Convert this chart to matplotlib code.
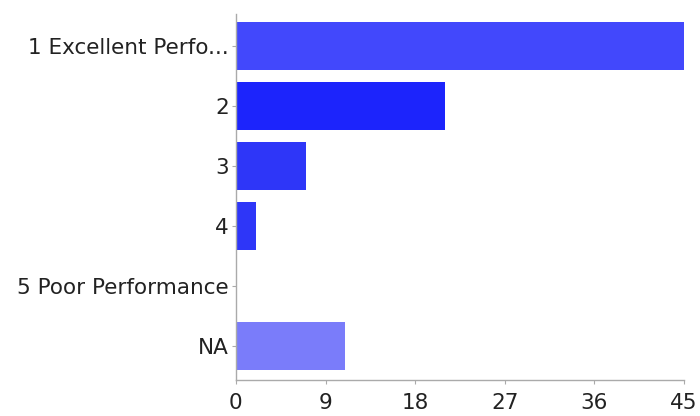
import matplotlib
matplotlib.use("Agg")
import matplotlib.pyplot as plt

plt.rcParams['font.family'] = ['DejaVu Sans']

categorias = ["1 Excellent Perfo...", "2", "3", "4", "5 Poor Performance", "NA"]
valores = [45, 21, 7, 2, 0, 11]
colores = ["#4248fc", "#1c24fc", "#2e36f8", "#2e36f8", "#2e36f8", "#7a7cfa"]
ticks_x = [0, 9, 18, 27, 36, 45]

fig = plt.figure(figsize=(7, 4.16), dpi=100)
ax = fig.add_axes([0.337, 0.0865, 0.64, 0.88])

pos = list(range(len(categorias)))
ax.barh(pos, valores, height=0.8, color=colores, edgecolor="none")

ax.set_ylim(5.567, -0.533)
ax.set_xlim(0, 45)
ax.set_yticks(pos)
ax.set_yticklabels(categorias, fontsize=15.5, color="#222222")
ax.set_xticks(ticks_x)
ax.set_xticklabels([str(t) for t in ticks_x], fontsize=15.5, color="#222222")

for lado in ["top", "right"]:
    ax.spines[lado].set_visible(False)
for lado in ["left", "bottom"]:
    ax.spines[lado].set_color("#aaaaaa")
    ax.spines[lado].set_linewidth(1)

ax.tick_params(axis="both", colors="#aaaaaa", length=3, width=0.8, labelcolor="#222222")
ax.tick_params(axis="x", pad=6)
ax.tick_params(axis="y", pad=2)

fig.savefig("out.png", dpi=100)
